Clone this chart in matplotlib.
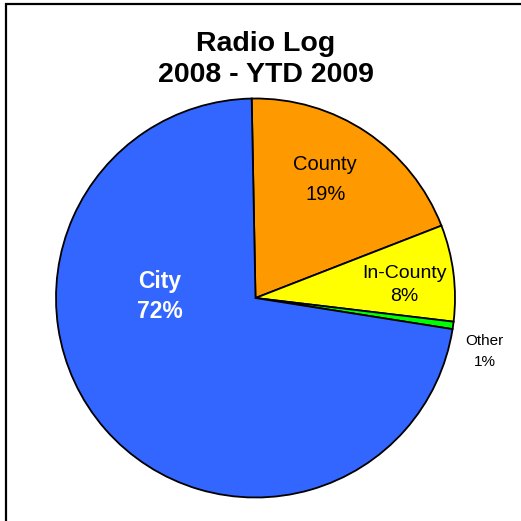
import matplotlib
matplotlib.use("Agg")
import matplotlib.pyplot as plt
import numpy as np
from matplotlib.patches import Rectangle

# Data (clockwise from top)
categories = ["County", "In-County", "Other", "City"]
values = [19.4, 7.8, 0.6, 72.2]
colors = ["#FF9900", "#FFFF00", "#00FF00", "#3366FF"]
title = "Radio Log\n2008 - YTD 2009"

plt.rcParams["font.family"] = ["Liberation Sans", "DejaVu Sans"]

W = 521
fig = plt.figure(figsize=(5.21, 5.21), dpi=100)
ax = fig.add_axes([0, 0, 1, 1])

cx, cy, R = 255.5, W - 298, 199.5
start = 91.1
ax.pie(values, colors=colors, startangle=start, counterclock=False,
       center=(cx, cy), radius=R, frame=True,
       wedgeprops=dict(edgecolor="black", linewidth=1.3))
ax.set_xlim(0, W)
ax.set_ylim(0, W)
ax.set_aspect("equal")
ax.axis("off")

total = sum(values)
pcts = [round(v / total * 100) for v in values]

# label placement: (radius fraction, angle deg, fontsize, weight, color, linespacing)
label_pos = {
    "County": (0.69, 59.5, 14.5, "normal", "black", 1.7),
    "In-County": (0.75, 5.0, 14.0, "normal", "black", 1.5),
    "Other": (1.18, -13.2, 11, "normal", "black", 1.6),
    "City": (0.48, 179.0, 16.5, "bold", "white", 1.38),
}
for cat, p in zip(categories, pcts):
    rf, ang, fs, fw, col, ls = label_pos[cat]
    x = cx + rf * R * np.cos(np.radians(ang))
    y = cy + rf * R * np.sin(np.radians(ang))
    ax.text(x, y, f"{cat}\n{p}%", ha="center", va="center", fontsize=fs,
            fontweight=fw, color=col, linespacing=ls)

ax.text(W / 2 + 5, W - 59.5, title, ha="center", va="center", fontsize=20.5,
        fontweight="bold", linespacing=1.24)

# frame (left and top edges visible)
fig.patches.append(Rectangle((5.7 / W, -0.1), 1.2, (W - 3.7) / W + 0.1,
                             transform=fig.transFigure, fill=False,
                             edgecolor="black", linewidth=1.6))

fig.savefig("out.png", dpi=100)
